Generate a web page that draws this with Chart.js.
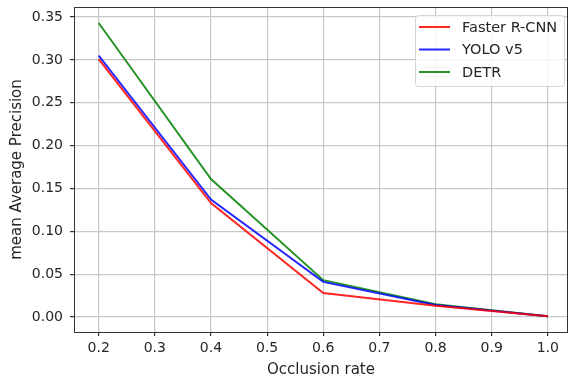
<!DOCTYPE html>
<html>
<head>
<meta charset="utf-8">
<script src="https://cdn.jsdelivr.net/npm/chart.js@4/dist/chart.umd.min.js"></script>
<style>
  html, body { margin: 0; padding: 0; background: #fff; }
  #wrap { width: 570px; height: 379px; }
</style>
</head>
<body>
<div id="wrap"><canvas id="lineChart" width="570" height="379"></canvas></div>
<script>
// data
const occlusion = [0.2, 0.4, 0.6, 0.8, 1.0];
const fasterRcnn = [0.301, 0.133, 0.028, 0.013, 0.001];
const yoloV5 = [0.305, 0.137, 0.041, 0.014, 0.001];
const detr = [0.343, 0.161, 0.043, 0.015, 0.001];

const xTicks = [0.2, 0.3, 0.4, 0.5, 0.6, 0.7, 0.8, 0.9, 1.0];
const yTicks = [0.00, 0.05, 0.10, 0.15, 0.20, 0.25, 0.30, 0.35];

const FONT = 'DejaVu Sans';

function toPoints(xs, ys) {
    return xs.map((x, i) => ({ x: x, y: ys[i] }));
}

// boxed legend in the top right corner, like matplotlib's
const boxLegend = {
    id: 'boxLegend',
    afterDraw(chart) {
        const c = chart.ctx;
        const area = chart.chartArea;
        const x0 = area.right - 153, y0 = area.top + 8, w = 149, h = 71;
        c.save();
        c.fillStyle = 'rgba(255,255,255,0.8)';
        c.strokeStyle = '#d6d6d6';
        c.lineWidth = 1;
        c.beginPath();
        c.roundRect(x0 + 0.5, y0 + 0.5, w, h, 3);
        c.fill();
        c.stroke();
        c.font = '14.5px ' + FONT;
        c.textBaseline = 'middle';
        chart.data.datasets.forEach((ds, i) => {
            const y = y0 + 12 + i * 22.5;
            c.strokeStyle = ds.borderColor;
            c.lineWidth = 2;
            c.beginPath();
            c.moveTo(x0 + 4, y);
            c.lineTo(x0 + 35, y);
            c.stroke();
            c.fillStyle = '#262626';
            c.fillText(ds.label, x0 + 47, y + 1);
        });
        c.restore();
    }
};

// dark frame round the plot area
const frame = {
    id: 'frame',
    afterDatasetsDraw(chart) {
        const c = chart.ctx;
        const a = chart.chartArea;
        c.save();
        c.strokeStyle = '#333';
        c.lineWidth = 1;
        c.strokeRect(a.left + 0.5, a.top + 0.5, a.right - a.left - 1, a.bottom - a.top);
        c.restore();
    }
};

const ctx = document.getElementById('lineChart').getContext('2d');
const chart = new Chart(ctx, {
    type: 'line',
    data: {
        datasets: [{
            label: 'Faster R-CNN',
            data: toPoints(occlusion, fasterRcnn),
            borderColor: 'rgba(255, 0, 0, 0.85)',
            borderWidth: 2,
            pointRadius: 0,
            tension: 0
        }, {
            label: 'YOLO v5',
            data: toPoints(occlusion, yoloV5),
            borderColor: 'rgba(0, 0, 255, 0.85)',
            borderWidth: 2,
            pointRadius: 0,
            tension: 0
        }, {
            label: 'DETR',
            data: toPoints(occlusion, detr),
            borderColor: 'rgba(0, 128, 0, 0.85)',
            borderWidth: 2,
            pointRadius: 0,
            tension: 0
        }]
    },
    options: {
        responsive: false,
        animation: false,
        layout: { padding: { top: 7, right: 2, left: 0, bottom: 0 } },
        plugins: {
            legend: { display: false },
            tooltip: { enabled: false }
        },
        scales: {
            x: {
                type: 'linear',
                min: 0.156,
                max: 1.036,
                afterBuildTicks: axis => { axis.ticks = xTicks.map(v => ({ value: v })); },
                afterFit: axis => {
                    axis.height = 47;
                    axis.paddingLeft = 0;
                    axis.paddingRight = 0;
                },
                ticks: {
                    autoSkip: false,
                    maxRotation: 0,
                    color: '#262626',
                    padding: 4,
                    font: { family: FONT, size: 14 },
                    callback: v => v.toFixed(1)
                },
                grid: {
                    color: '#c8c8c8',
                    lineWidth: 1.2,
                    drawTicks: true,
                    tickLength: 4,
                    tickColor: '#333'
                },
                border: { display: false },
                title: {
                    display: true,
                    text: 'Occlusion rate',
                    color: '#262626',
                    font: { family: FONT, size: 15 },
                    padding: { top: 0, bottom: 0 }
                }
            },
            y: {
                type: 'linear',
                min: -0.0175,
                max: 0.3617,
                afterBuildTicks: axis => { axis.ticks = yTicks.map(v => ({ value: v })); },
                afterFit: axis => {
                    axis.width = 74;
                    axis.paddingTop = 0;
                    axis.paddingBottom = 0;
                },
                ticks: {
                    autoSkip: false,
                    color: '#262626',
                    padding: 7,
                    font: { family: FONT, size: 14 },
                    callback: v => v.toFixed(2)
                },
                grid: {
                    color: '#c8c8c8',
                    lineWidth: 1.2,
                    drawTicks: true,
                    tickLength: 4,
                    tickColor: '#333'
                },
                border: { display: false },
                title: {
                    display: true,
                    text: 'mean Average Precision',
                    color: '#262626',
                    font: { family: FONT, size: 15 },
                    padding: { top: 8, bottom: 0 }
                }
            }
        }
    },
    plugins: [frame, boxLegend]
});
</script>
</body>
</html>
